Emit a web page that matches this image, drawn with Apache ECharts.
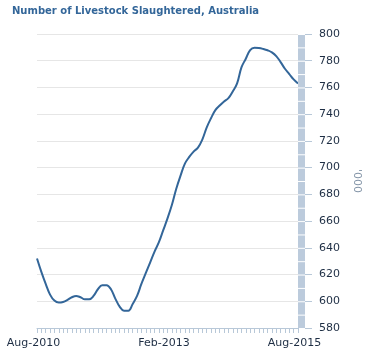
<!DOCTYPE html>
<html><head><meta charset="utf-8">
<script src="https://cdn.jsdelivr.net/npm/echarts@6/dist/echarts.min.js"></script>
<style>html,body{margin:0;padding:0;background:#fff;overflow:hidden}#c{width:370px;height:359px}</style>
</head><body><div id="c"></div>
<script>
const title = "Number of Livestock Slaughtered, Australia";
const yName = "'000";
const months = ["Jan","Feb","Mar","Apr","May","Jun","Jul","Aug","Sep","Oct","Nov","Dec"];
const categories = [];
for (let i = 0; i <= 60; i++) { const m = 7 + i; categories.push(months[m % 12] + "-" + (2010 + Math.floor(m / 12))); }
const values = [632,622,613,605,600.5,599,599.5,601,603,604,603,601.5,601.5,604,609,612,612,609,602,596,593,593,598,604,613,621,629,637,644,653,662,672,684,694,703,708,712,715,721,730,737,743,746.5,749.5,752,757,763,775,781.5,788,789.7,789.5,788.8,787.8,786.3,783.5,779,774,770,766,763];
const yMin = 580, yMax = 800, yStep = 20, barStep = 10;

const chart = echarts.init(document.getElementById('c'), null, { width: 370, height: 359 });
const font = "DejaVu Sans";
chart.setOption({
  animation: false,
  title: { text: title, left: 7, top: 1, textStyle: { fontFamily: font, fontSize: 10, fontWeight: 'bold', color: '#336699' } },
  grid: { left: 37, width: 269, top: 34, height: 294 },
  xAxis: {
    type: 'category', data: categories, boundaryGap: false,
    axisLine: { lineStyle: { color: '#b8c8d8', width: 1 } },
    axisTick: { interval: 0, length: 5, lineStyle: { color: '#b8c8d8' } },
    axisLabel: { interval: 29, margin: 10, fontFamily: font, fontSize: 11, color: '#1e2e44', padding: [0, 7, 0, 0] },
    splitLine: { show: false }
  },
  yAxis: {
    type: 'value', position: 'right', min: yMin, max: yMax, interval: yStep, offset: 7,
    name: yName, nameLocation: 'middle', nameGap: 46, nameRotate: -90,
    nameTextStyle: { fontFamily: font, fontSize: 11, color: '#8495a8', padding: [8, 0, 0, 0] },
    axisLine: { show: false },
    axisTick: { show: true, length: 7, lineStyle: { color: '#b8c8d8' } },
    axisLabel: { margin: 14, fontFamily: font, fontSize: 11, color: '#1e2e44' },
    splitLine: { lineStyle: { color: '#e6e6e6', width: 1 } }
  },
  series: [{
    type: 'line', data: values, smooth: 0.4, showSymbol: false,
    lineStyle: { color: '#336699', width: 2 }
  }]
});
const gr = [];
const x0 = chart.convertToPixel({ xAxisIndex: 0 }, categories.length - 1);
for (let v = yMin; v < yMax; v += barStep) {
  const yb = chart.convertToPixel({ yAxisIndex: 0 }, v);
  const yt = chart.convertToPixel({ yAxisIndex: 0 }, v + barStep);
  gr.push({ type: 'rect', shape: { x: x0, y: yt + 1, width: 7, height: yb - yt - 1 }, style: { fill: '#bccbdc' }, z: 10 });
}
chart.setOption({ graphic: gr });
</script></body></html>
